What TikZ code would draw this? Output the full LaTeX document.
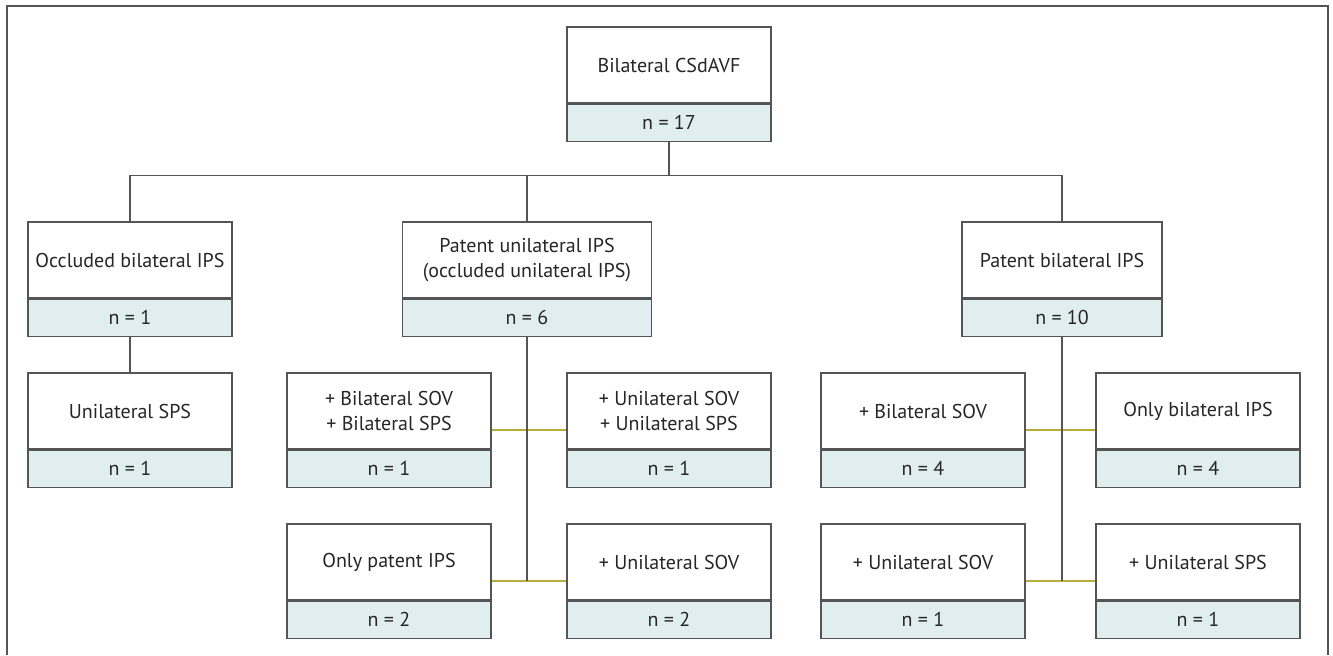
\documentclass[tikz,border=0pt]{standalone}
\usepackage{fontspec}
\setmainfont{PT Sans}
\usetikzlibrary{calc}
\definecolor{boxline}{HTML}{555555}
\definecolor{countfill}{HTML}{E1EEF0}
\definecolor{linkolive}{HTML}{B5AE3C}
\definecolor{txt}{HTML}{262626}

\tikzset{
  casebox/.style={draw=boxline, fill=white, line width=0.6pt, minimum width=102pt,
    minimum height=38pt, inner sep=0pt, align=center, text=txt,
    font=\fontsize{10}{12.5}\selectfont},
  countbox/.style={casebox, fill=countfill, minimum height=18.5pt},
  tree/.style={draw=boxline, line width=0.6pt},
  link/.style={draw=linkolive, line width=0.8pt},
}

\begin{document}
\begin{tikzpicture}[x=0.5pt, y=-0.5pt]
    \useasboundingbox (0,0) rectangle (1333,655);
    % frame, open at the bottom
    \draw[boxline, line width=0.8pt] (7,655) -- (7,6) -- (1328,6) -- (1328,655);

    % top
    \node[casebox] (total) at (669,65) {Bilateral CSdAVF};
    \node[countbox, anchor=north] (totaln) at (total.south) {n = 17};

    % first level
    \node[casebox] (occl) at (130,260) {Occluded bilateral IPS};
    \node[countbox, anchor=north] (occln) at (occl.south) {n = 1};
    \node[casebox, minimum width=124.5pt] (patu) at (527,260) {Patent unilateral IPS\\(occluded unilateral IPS)};
    \node[countbox, minimum width=124.5pt, anchor=north] (patun) at (patu.south) {n = 6};
    \node[casebox, minimum width=100pt] (patb) at (1062,260) {Patent bilateral IPS};
    \node[countbox, minimum width=100pt, anchor=north] (patbn) at (patb.south) {n = 10};

    % second level
    \node[casebox] (usps) at (130,411) {Unilateral SPS};
    \node[countbox, anchor=north] (uspsn) at (usps.south) {n = 1};
    \node[casebox] (bsovsps) at (389,411) {+ Bilateral SOV\\+ Bilateral SPS};
    \node[countbox, anchor=north] (bsovspsn) at (bsovsps.south) {n = 1};
    \node[casebox] (usovsps) at (669,411) {+ Unilateral SOV\\+ Unilateral SPS};
    \node[countbox, anchor=north] (usovspsn) at (usovsps.south) {n = 1};
    \node[casebox] (bsov) at (923,411) {+ Bilateral SOV};
    \node[countbox, anchor=north] (bsovn) at (bsov.south) {n = 4};
    \node[casebox] (onlyb) at (1198,411) {Only bilateral IPS};
    \node[countbox, anchor=north] (onlybn) at (onlyb.south) {n = 4};

    % third level
    \node[casebox] (onlyp) at (389,562) {Only patent IPS};
    \node[countbox, anchor=north] (onlypn) at (onlyp.south) {n = 2};
    \node[casebox] (usov) at (669,562) {+ Unilateral SOV};
    \node[countbox, anchor=north] (usovn) at (usov.south) {n = 2};
    \node[casebox] (usovb) at (923,562) {+ Unilateral SOV};
    \node[countbox, anchor=north] (usovbn) at (usovb.south) {n = 1};
    \node[casebox] (uspsb) at (1198,562) {+ Unilateral SPS};
    \node[countbox, anchor=north] (uspsbn) at (uspsb.south) {n = 1};

    % tree from the top box
    \coordinate (split) at ($(totaln.south)+(0,34)$);
    \draw[tree] (totaln.south) -- (split);
    \draw[tree] (occl.north) |- (split) -| (patb.north);
    \draw[tree] (patu.north) -- (patu.north |- split);
    \draw[tree] (occln.south) -- (usps.north);

    % side links, at the middle of each box
    \coordinate (ua) at ($(bsovsps.north east)!0.5!(bsovspsn.south east)$);
    \coordinate (ub) at ($(usovsps.north west)!0.5!(usovspsn.south west)$);
    \coordinate (uc) at ($(onlyp.north east)!0.5!(onlypn.south east)$);
    \coordinate (ud) at ($(usov.north west)!0.5!(usovn.south west)$);
    \coordinate (ba) at ($(bsov.north east)!0.5!(bsovn.south east)$);
    \coordinate (bb) at ($(onlyb.north west)!0.5!(onlybn.south west)$);
    \coordinate (bc) at ($(usovb.north east)!0.5!(usovbn.south east)$);
    \coordinate (bd) at ($(uspsb.north west)!0.5!(uspsbn.south west)$);
    \draw[link] (ua) -- (ub);
    \draw[link] (uc) -- (ud);
    \draw[link] (ba) -- (bb);
    \draw[link] (bc) -- (bd);
    \draw[tree] (patun.south) -- (patun.south |- uc);
    \draw[tree] (patbn.south) -- (patbn.south |- bc);
\end{tikzpicture}
\end{document}
